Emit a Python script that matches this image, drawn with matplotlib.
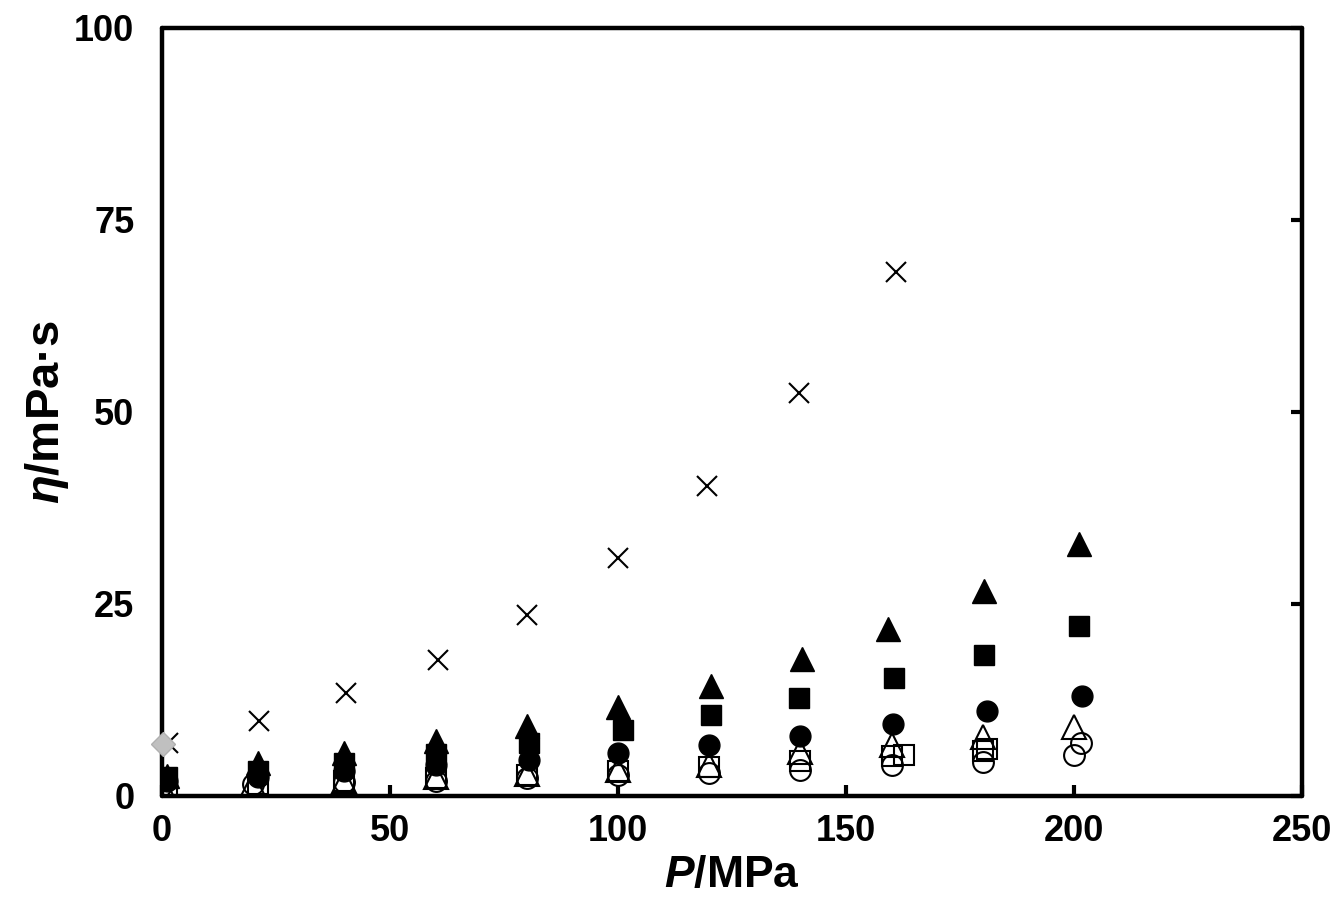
import matplotlib.pyplot as plt
import numpy as np

# pressures (MPa)
P = [0.1, 20, 40, 60, 80, 100, 120, 140, 160, 180, 200]

# crosses
cross_P = [1.3, 21.3, 40.3, 60.5, 80, 100.1, 119.6, 139.8, 161]
cross_eta = [6.9, 9.8, 13.4, 17.7, 23.6, 31.0, 40.4, 52.5, 68.2]

# filled symbols
tri_f_P = [1, 21, 40, 60, 80, 100, 120.3, 140.4, 159.3, 180.3, 201.1]
tri_f_eta = [2.6, 4.3, 5.6, 7.1, 9.1, 11.6, 14.3, 17.8, 21.7, 26.7, 32.8]
sq_f_P = [1, 21, 40, 60, 80.5, 101, 120.5, 139.8, 160.6, 180.3, 201.1]
sq_f_eta = [2.5, 3.2, 4.3, 5.5, 6.9, 8.6, 10.5, 12.7, 15.4, 18.4, 22.1]
ci_f_P = [1, 21, 40, 60, 80.5, 100, 120, 140, 160.2, 181, 201.8]
ci_f_eta = [1.9, 2.5, 3.2, 4.0, 4.7, 5.6, 6.6, 7.8, 9.4, 11.1, 13.0]

# open symbols
tri_o_eta = [1.2, 1.6, 2.0, 2.5, 2.9, 3.4, 4.1, 5.7, 6.7, 7.7, 9.0]
sq_o_P = [1, 21, 40, 60, 80, 100, 120, 140, 160, 180]
sq_o_eta = [1.0, 1.5, 1.9, 2.3, 2.7, 3.3, 3.8, 4.6, 5.2, 5.9]
ci_o_P = [-0.5, 20, 40, 60, 80, 100, 120, 140, 160, 180, 200]
ci_o_eta = [1.2, 1.6, 1.8, 2.0, 2.3, 2.7, 3.0, 3.4, 4.0, 4.4, 5.3]

# second open-symbol set and the single grey point
sq_o2_P = [162.8, 181]
sq_o2_eta = [5.3, 6.1]
ci_o2_P = [201.5]
ci_o2_eta = [6.9]
dia_P = [0.2]
dia_eta = [6.8]

plt.rcParams['font.family'] = ['Liberation Sans', 'DejaVu Sans']
plt.rcParams['mathtext.fontset'] = 'custom'
plt.rcParams['mathtext.it'] = 'Liberation Sans:bold:italic'
plt.rcParams['mathtext.rm'] = 'Liberation Sans:bold'
plt.rcParams['mathtext.bf'] = 'Liberation Sans:bold'

fig = plt.figure(figsize=(13.37, 9.18), dpi=100)
ax = fig.add_axes([0.1212, 0.1329, 0.8526, 0.8366])

ms = 15
ax.plot(cross_P, cross_eta, 'x', color='black', ms=ms, mew=1.5, ls='none')
ax.plot(tri_f_P, tri_f_eta, '^', color='black', ms=ms + 2, ls='none')
ax.plot(sq_f_P, sq_f_eta, 's', color='black', ms=ms - 1, ls='none')
ax.plot(ci_f_P, ci_f_eta, 'o', color='black', ms=ms, ls='none')

ax.plot(P, tri_o_eta, '^', mfc='none', mec='black', mew=1.5, ms=ms + 2, ls='none')
ax.plot(sq_o_P, sq_o_eta, 's', mfc='none', mec='black', mew=1.5, ms=ms - 1, ls='none')
ax.plot(ci_o_P, ci_o_eta, 'o', mfc='none', mec='black', mew=1.5, ms=ms, ls='none')
ax.plot(sq_o2_P, sq_o2_eta, 's', mfc='none', mec='black', mew=1.5, ms=ms - 1, ls='none')
ax.plot(ci_o2_P, ci_o2_eta, 'o', mfc='none', mec='black', mew=1.5, ms=ms, ls='none')
ax.plot(dia_P, dia_eta, 'D', color='#c0c0c0', mec='#b0b0b0', ms=ms - 3, ls='none',
        clip_on=False, zorder=5)

ax.set_xlim(0, 250)
ax.set_ylim(0, 100)
ax.set_xticks([0, 50, 100, 150, 200, 250])
ax.set_yticks([0, 25, 50, 75, 100])

for s in ax.spines.values():
    s.set_linewidth(3.2)
    s.set_capstyle('round')
    s.set_joinstyle('round')

ax.tick_params(axis='both', direction='in', length=8, width=3, labelsize=26, pad=13)
ax.tick_params(axis='y', left=False, right=True, pad=20)
for lab in ax.get_xticklabels() + ax.get_yticklabels():
    lab.set_fontweight('bold')

ax.set_xlabel('$P$/MPa', fontsize=32, fontweight='bold', labelpad=4)
ax.set_ylabel('$\\eta$/mPa\u00b7s', fontsize=34, fontweight='bold', labelpad=2)

fig.savefig('out.png', dpi=100)
